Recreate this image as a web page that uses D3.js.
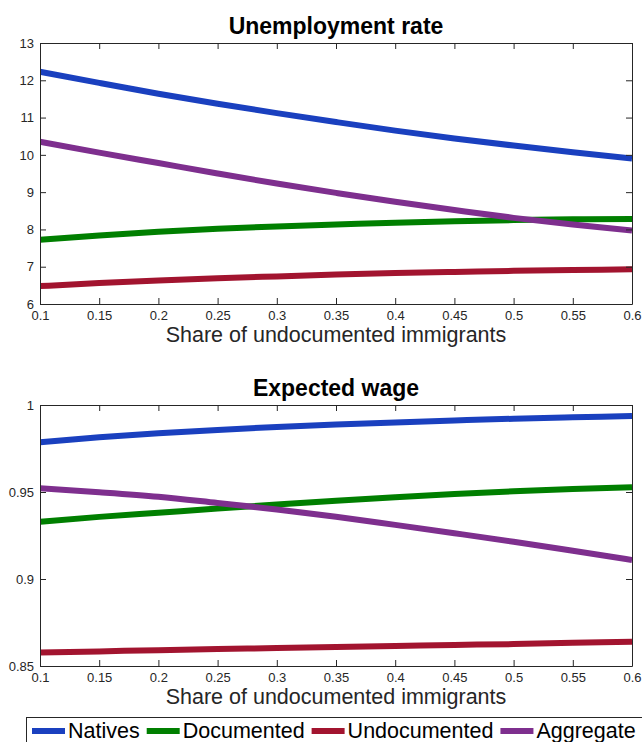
<!DOCTYPE html>
<html>
<head>
<meta charset="utf-8">
<script src="https://cdn.jsdelivr.net/npm/d3@7"></script>
<style>
  body { margin: 0; background: #fff; }
  svg { display: block; }
  text { font-family: "Liberation Sans", Arial, Helvetica, sans-serif; }
</style>
</head>
<body>
<svg id="chart" width="642" height="742"></svg>
<script>
// Share of undocumented immigrants (x values)
const shares = [0.1, 0.15, 0.2, 0.25, 0.3, 0.35, 0.4, 0.45, 0.5, 0.55, 0.6];
const xTicks = [0.1, 0.15, 0.2, 0.25, 0.3, 0.35, 0.4, 0.45, 0.5, 0.55, 0.6];
const xTickLabels = ["0.1", "0.15", "0.2", "0.25", "0.3", "0.35", "0.4", "0.45", "0.5", "0.55", "0.6"];

const seriesNames = ["Natives", "Documented", "Undocumented", "Aggregate"];

// Unemployment rate (%)
const unempNatives      = [12.23, 11.93, 11.64, 11.37, 11.12, 10.88, 10.65, 10.44, 10.25, 10.07, 9.90];
const unempDocumented   = [7.72, 7.84, 7.94, 8.02, 8.08, 8.13, 8.18, 8.22, 8.25, 8.27, 8.28];
const unempUndocumented = [6.48, 6.56, 6.63, 6.69, 6.74, 6.79, 6.83, 6.86, 6.89, 6.91, 6.93];
const unempAggregate    = [10.35, 10.06, 9.78, 9.50, 9.23, 8.98, 8.74, 8.52, 8.31, 8.13, 7.97];
const unempTicks = [6, 7, 8, 9, 10, 11, 12, 13];
const unempTickLabels = ["6", "7", "8", "9", "10", "11", "12", "13"];

// Expected wage (relative)
const wageNatives      = [0.9786, 0.9814, 0.9837, 0.9857, 0.9874, 0.9888, 0.9900, 0.9911, 0.9921, 0.9929, 0.9937];
const wageDocumented   = [0.9329, 0.9357, 0.9381, 0.9405, 0.9428, 0.9450, 0.9470, 0.9488, 0.9504, 0.9517, 0.9527];
const wageUndocumented = [0.8577, 0.8584, 0.8591, 0.8597, 0.8603, 0.8609, 0.8615, 0.8621, 0.8626, 0.8633, 0.8640];
const wageAggregate    = [0.9521, 0.9499, 0.9473, 0.9437, 0.9400, 0.9358, 0.9311, 0.9263, 0.9214, 0.9162, 0.9109];
const wageTicks = [0.85, 0.9, 0.95, 1];
const wageTickLabels = ["0.85", "0.9", "0.95", "1"];

// Styling
const seriesColors = ["#1a40bf", "#007f00", "#a2142f", "#7e2f8e"];
const axisColor = "#262626";
const lineWidth = 6;

const svg = d3.select("#chart");
const plotLeft = 40, plotRight = 632;

const x = d3.scaleLinear().domain([0.1, 0.6]).range([plotLeft, plotRight]);

function drawPanel(id, top, bottom, yDomain, yTicks, yTickLabels, title, seriesValues) {
  const y = d3.scaleLinear().domain(yDomain).range([bottom, top]);
  const g = svg.append("g");

  g.append("clipPath").attr("id", "clip-" + id)
    .append("rect")
    .attr("x", plotLeft).attr("y", top)
    .attr("width", plotRight - plotLeft).attr("height", bottom - top);

  const line = d3.line()
    .x((d, i) => x(shares[i]))
    .y(d => y(d))
    .curve(d3.curveMonotoneX);

  const lines = g.append("g").attr("clip-path", `url(#clip-${id})`);
  seriesValues.forEach((vals, k) => {
    lines.append("path")
      .datum(vals)
      .attr("d", line)
      .attr("fill", "none")
      .attr("stroke", seriesColors[k])
      .attr("stroke-width", lineWidth)
      .attr("stroke-linecap", "butt")
      .attr("stroke-linejoin", "round");
  });

  const fmtX = d => xTickLabels[xTicks.indexOf(d)];
  const fmtY = d => yTickLabels[yTicks.indexOf(d)];

  const axB = g.append("g").attr("transform", `translate(0,${bottom})`)
    .call(d3.axisBottom(x).tickValues(xTicks).tickFormat(fmtX)
      .tickSizeInner(-6).tickSizeOuter(0).tickPadding(7));
  const axT = g.append("g").attr("transform", `translate(0,${top})`)
    .call(d3.axisTop(x).tickValues(xTicks).tickFormat("")
      .tickSizeInner(-6).tickSizeOuter(0));
  const axL = g.append("g").attr("transform", `translate(${plotLeft},0)`)
    .call(d3.axisLeft(y).tickValues(yTicks).tickFormat(fmtY)
      .tickSizeInner(-6).tickSizeOuter(0).tickPadding(6));
  const axR = g.append("g").attr("transform", `translate(${plotRight},0)`)
    .call(d3.axisRight(y).tickValues(yTicks).tickFormat("")
      .tickSizeInner(-6).tickSizeOuter(0));

  [axB, axT, axL, axR].forEach(a => {
    a.select(".domain").attr("stroke", axisColor).attr("stroke-width", 1);
    a.selectAll(".tick line").attr("stroke", axisColor).attr("stroke-width", 1);
    a.selectAll(".tick text")
      .attr("fill", axisColor)
      .style("font-size", "13px")
      .style("font-family", '"Liberation Sans", Arial, sans-serif');
  });

  // Title
  g.append("text")
    .attr("x", (plotLeft + plotRight) / 2)
    .attr("y", top - 9)
    .attr("text-anchor", "middle")
    .attr("fill", "#000")
    .style("font-size", "23px")
    .style("font-weight", "bold")
    .text(title);

  // X-axis label
  g.append("text")
    .attr("x", (plotLeft + plotRight) / 2)
    .attr("y", bottom + 38)
    .attr("text-anchor", "middle")
    .attr("fill", axisColor)
    .style("font-size", "21.5px")
    .text("Share of undocumented immigrants");
}

drawPanel("unemp", 43, 304, [6, 13], unempTicks, unempTickLabels, "Unemployment rate",
  [unempNatives, unempDocumented, unempUndocumented, unempAggregate]);

drawPanel("wage", 405, 666, [0.85, 1], wageTicks, wageTickLabels, "Expected wage",
  [wageNatives, wageDocumented, wageUndocumented, wageAggregate]);

// Legend
const legend = svg.append("g");
legend.append("rect")
  .attr("x", 26.5).attr("y", 717.5)
  .attr("width", 700).attr("height", 40)
  .attr("fill", "#fff")
  .attr("stroke", axisColor)
  .attr("stroke-width", 1);

let cursor = 32;
seriesNames.forEach((name, k) => {
  legend.append("line")
    .attr("x1", cursor).attr("x2", cursor + 33)
    .attr("y1", 731).attr("y2", 731)
    .attr("stroke", seriesColors[k])
    .attr("stroke-width", lineWidth);
  const t = legend.append("text")
    .attr("x", cursor + 36)
    .attr("y", 738)
    .attr("fill", "#000")
    .style("font-size", "21.5px")
    .text(name);
  cursor += 36 + t.node().getComputedTextLength() + 7;
});
</script>
</body>
</html>
